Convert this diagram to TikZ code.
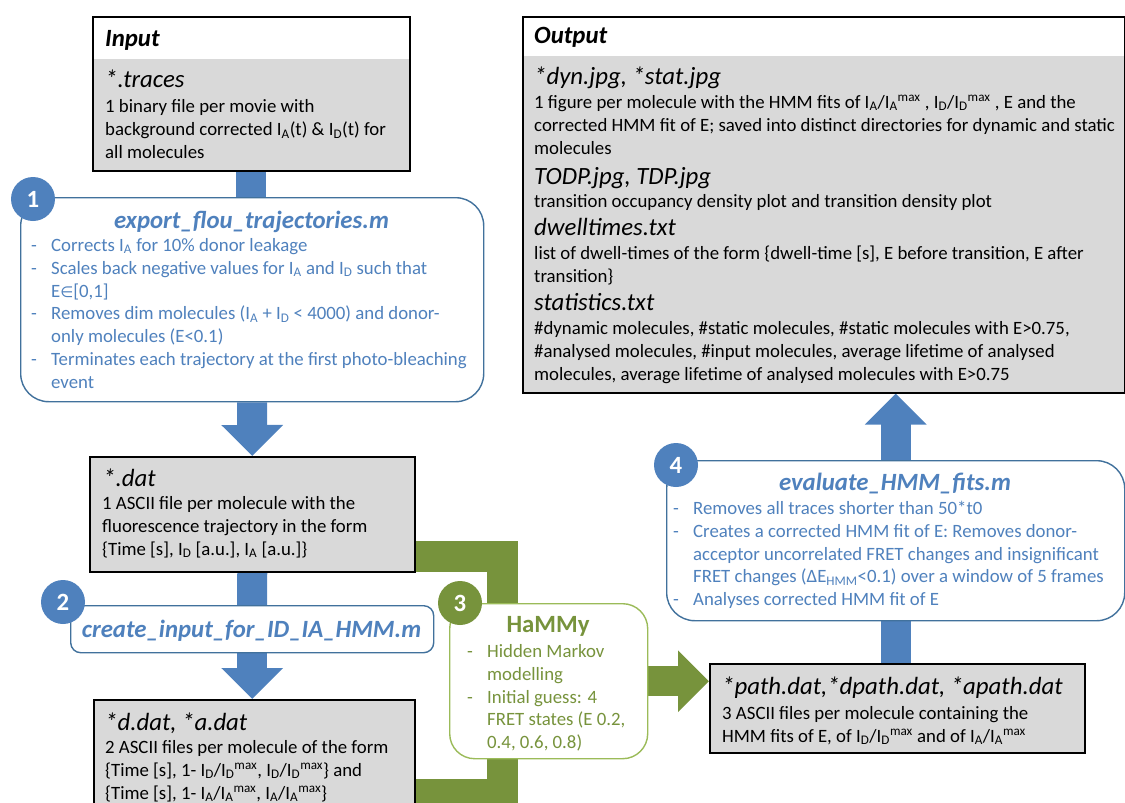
\documentclass[tikz,border=0pt]{standalone}
\usepackage{fontspec}
\setmainfont{Carlito}
\newfontfamily\djv{DejaVu Sans}
\usetikzlibrary{arrows.meta,calc}
\pgfdeclarelayer{bg}
\pgfsetlayers{bg,main}
\definecolor{obl}{HTML}{4F81BD}
\definecolor{obd}{HTML}{41719C}
\definecolor{ogr}{HTML}{77933C}
\definecolor{lgr}{HTML}{9BBB59}
\definecolor{gfill}{HTML}{D9D9D9}
\newcommand\bfs{\fontsize{18.8}{22.9}\selectfont}
\newcommand\tfs{\fontsize{24.8}{28}\selectfont}
\newcommand\fl{\rule{0pt}{18pt}}
\newcommand\ft{\rule{0pt}{22pt}}
\newcommand\sbs[1]{\textsubscript{#1}}
\newcommand\sps[1]{\textsuperscript{#1}}
\newcommand\dsh{\makebox[20pt][l]{-}}
\newcommand\ind{\hspace*{20pt}}
\newcommand\elem{{\djv\fontsize{15}{18}\selectfont ∈}}
\begin{document}
\begin{tikzpicture}[x=1pt,y=-1pt,
  graybox/.style={draw=black, line width=1.5pt, fill=gfill, anchor=north west, inner sep=0pt},
  hdrbox/.style={draw=black, line width=1.5pt, fill=white, anchor=north west, inner sep=0pt},
  bluebox/.style={draw=obd, line width=1.4pt, fill=white, rounded corners=28pt, anchor=north west, inner sep=0pt},
  greenbox/.style={draw=lgr, line width=1.4pt, fill=white, rounded corners=25pt, anchor=north west, inner sep=0pt},
  numb/.style={circle, fill=obl, text=white, font=\tfs\bfseries, minimum size=44pt, inner sep=0pt},
  txt/.style={align=left, inner sep=0pt, anchor=north west, font=\bfs},
  ttl/.style={inner sep=0pt, anchor=north west, font=\tfs\itshape},
  bttl/.style={inner sep=0pt, anchor=north, font=\tfs\bfseries\itshape, text=obl},
  bluebar/.style={draw=obl, line width=30pt},
  bluearr/.style={bluebar, -{Triangle[length=31pt,width=60pt]}},
  greenbar/.style={draw=ogr, line width=31pt},
  greenarr/.style={draw=ogr, line width=30pt, -{Triangle[length=31pt,width=60pt]}}
]
\useasboundingbox (0,0) rectangle (1125,803);

% ---------- boxes ----------
\node[hdrbox, minimum width=317pt, minimum height=154pt,
  path picture={\fill[gfill] ($(path picture bounding box.north west)+(0,42)$) rectangle (path picture bounding box.south east);}] (input) at (92,16) {};
\node[bluebox, minimum width=463pt, minimum height=204pt] (box1) at (20,197) {};
\node[graybox, minimum width=325pt, minimum height=115pt] (dat) at (89,456) {};
\node[bluebox, rounded corners=10pt, minimum width=363pt, minimum height=47pt] (box2) at (70,605) {};
\node[graybox, minimum width=321pt, minimum height=130pt] (dd) at (93,699) {};
\node[greenbox, minimum width=198pt, minimum height=155pt] (hammy) at (449,603) {};
\node[bluebox, minimum width=458pt, minimum height=160pt] (box4) at (666,460) {};
\node[graybox, minimum width=375pt, minimum height=89pt] (path) at (709,663) {};
\node[hdrbox, minimum width=602pt, minimum height=376pt,
  path picture={\fill[gfill] ($(path picture bounding box.north west)+(0,39)$) rectangle (path picture bounding box.south east);}] (output) at (522,16) {};

% ---------- number circles ----------
\node[numb] (c1) at (33,199) {1};
\node[numb] (c2) at (63,602) {2};
\node[numb, fill=ogr] (c3) at (460,603) {3};
\node[numb] (c4) at (676,465) {4};

% ---------- connectors ----------
\coordinate (gtop) at (502.5,556);
\coordinate (gbot) at (502.5,794);
\begin{pgfonlayer}{bg}
\draw[bluebar] (input.south) -- (input.south |- box1.north);
\draw[bluearr] (box1.south) -- (dat.north);
\draw[bluebar] (dat.south) -- (box2.north);
\draw[bluearr] (box2.south) -- (box2.south |- dd.north);
\draw[greenbar] (dat.east |- gtop) -- (gtop) -- (gbot) -- (dd.east |- gbot);
\draw[greenarr] (hammy.east) -- (hammy.east -| path.west);
\draw[bluebar] (box4.south) -- (box4.south |- path.north);
\draw[bluearr] (box4.north) -- (box4.north |- output.south);
\end{pgfonlayer}

% ---------- Input ----------
\node[ttl, font=\tfs\bfseries\itshape] (tIn) at (105,24) {\ft Input};
\node[ttl] (tTr) at (105,65) {\ft *.traces};
\node[txt] (bIn) at (105,94.7) {\fl 1 binary file per movie with\\
background corrected I\sbs{A}(t) \& I\sbs{D}(t) for\\
all molecules};

% ---------- box 1 ----------
\node[bttl] (t1) at (251.5,206) {\ft export\_flou\_trajectories.m};
\node[txt, text=obl] (b1) at (31,233) {\fl\dsh Corrects I\sbs{A} for 10\% donor leakage\\
\dsh Scales back negative values for I\sbs{A} and I\sbs{D} such that\\
\ind E\elem[0,1]\\
\dsh Removes dim molecules (I\sbs{A} + I\sbs{D} < 4000) and donor-\\
\ind only molecules (E<0.1)\\
\dsh Terminates each trajectory at the first photo-bleaching\\
\ind event};

% ---------- *.dat ----------
\node[ttl] (tDat) at (103,464) {\ft *.dat};
\node[txt] (bDat) at (102,491) {\fl 1 ASCII file per molecule with the\\
fluorescence trajectory in the form\\
\{Time [s], I\sbs{D} [a.u.], I\sbs{A} [a.u.]\}};

% ---------- box 2 ----------
\node[bttl] (t2) at (251.5,615) {\ft create\_input\_for\_ID\_IA\_HMM.m};

% ---------- *d.dat ----------
\node[ttl] (tDd) at (105,708) {\ft *d.dat, *a.dat};
\node[txt] (bDd) at (105,735) {\fl 2 ASCII files per molecule of the form\\
\{Time [s], 1- I\sbs{D}/I\sbs{D}\sps{max}, I\sbs{D}/I\sbs{D}\sps{max}\} and\\
\{Time [s], 1- I\sbs{A}/I\sbs{A}\sps{max}, I\sbs{A}/I\sbs{A}\sps{max}\}};

% ---------- HaMMy ----------
\node[inner sep=0pt, anchor=north, font=\tfs\bfseries, text=ogr] (t3) at (548,610) {\ft HaMMy};
\node[txt, text=ogr] (b3) at (467,639) {\fl\dsh Hidden Markov\\
\ind modelling\\
\dsh Initial guess: 4\\
\ind FRET states (E 0.2,\\
\ind 0.4, 0.6, 0.8)};

% ---------- box 4 ----------
\node[bttl] (t4) at (895,468) {\ft evaluate\_HMM\_fits.m};
\node[txt, text=obl] (b4) at (673,496) {\fl\dsh Removes all traces shorter than 50*t0\\
\dsh Creates a corrected HMM fit of E: Removes donor-\\
\ind acceptor uncorrelated FRET changes and insignificant\\
\ind FRET changes (ΔE\sbs{HMM}<0.1) over a window of 5 frames\\
\dsh Analyses corrected HMM fit of E};

% ---------- path ----------
\node[ttl] (tPa) at (722,672) {\ft *path.dat,*dpath.dat, *apath.dat};
\node[txt] (bPa) at (722,701) {\fl 3 ASCII files per molecule containing the\\
HMM fits of E, of I\sbs{D}/I\sbs{D}\sps{max} and of I\sbs{A}/I\sbs{A}\sps{max}};

% ---------- Output ----------
\node[ttl, font=\tfs\bfseries\itshape] (tOut) at (534,21) {\ft Output};
\node[ttl] (tDyn) at (534,62) {\ft *dyn.jpg, *stat.jpg};
\node[txt] (bDyn) at (534,90) {\fl 1 figure per molecule with the HMM fits of I\sbs{A}/I\sbs{A}\sps{max} , I\sbs{D}/I\sbs{D}\sps{max} , E and the\\
corrected HMM fit of E; saved into distinct directories for dynamic and static\\
molecules};
\node[ttl] (tTodp) at (534,162) {\ft TODP.jpg, TDP.jpg};
\node[txt] (bTodp) at (534,189) {\fl transition occupancy density plot and transition density plot};
\node[ttl] (tDw) at (534,213) {\ft dwelltimes.txt};
\node[txt] (bDw) at (534,241) {\fl list of dwell-times of the form \{dwell-time [s], E before transition, E after\\
transition\}};
\node[ttl] (tSt) at (534,288) {\ft statistics.txt};
\node[txt] (bSt) at (534,316) {\fl \#dynamic molecules, \#static molecules, \#static molecules with E>0.75,\\
\#analysed molecules, \#input molecules, average lifetime of analysed\\
molecules, average lifetime of analysed molecules with E>0.75};
\end{tikzpicture}
\end{document}
